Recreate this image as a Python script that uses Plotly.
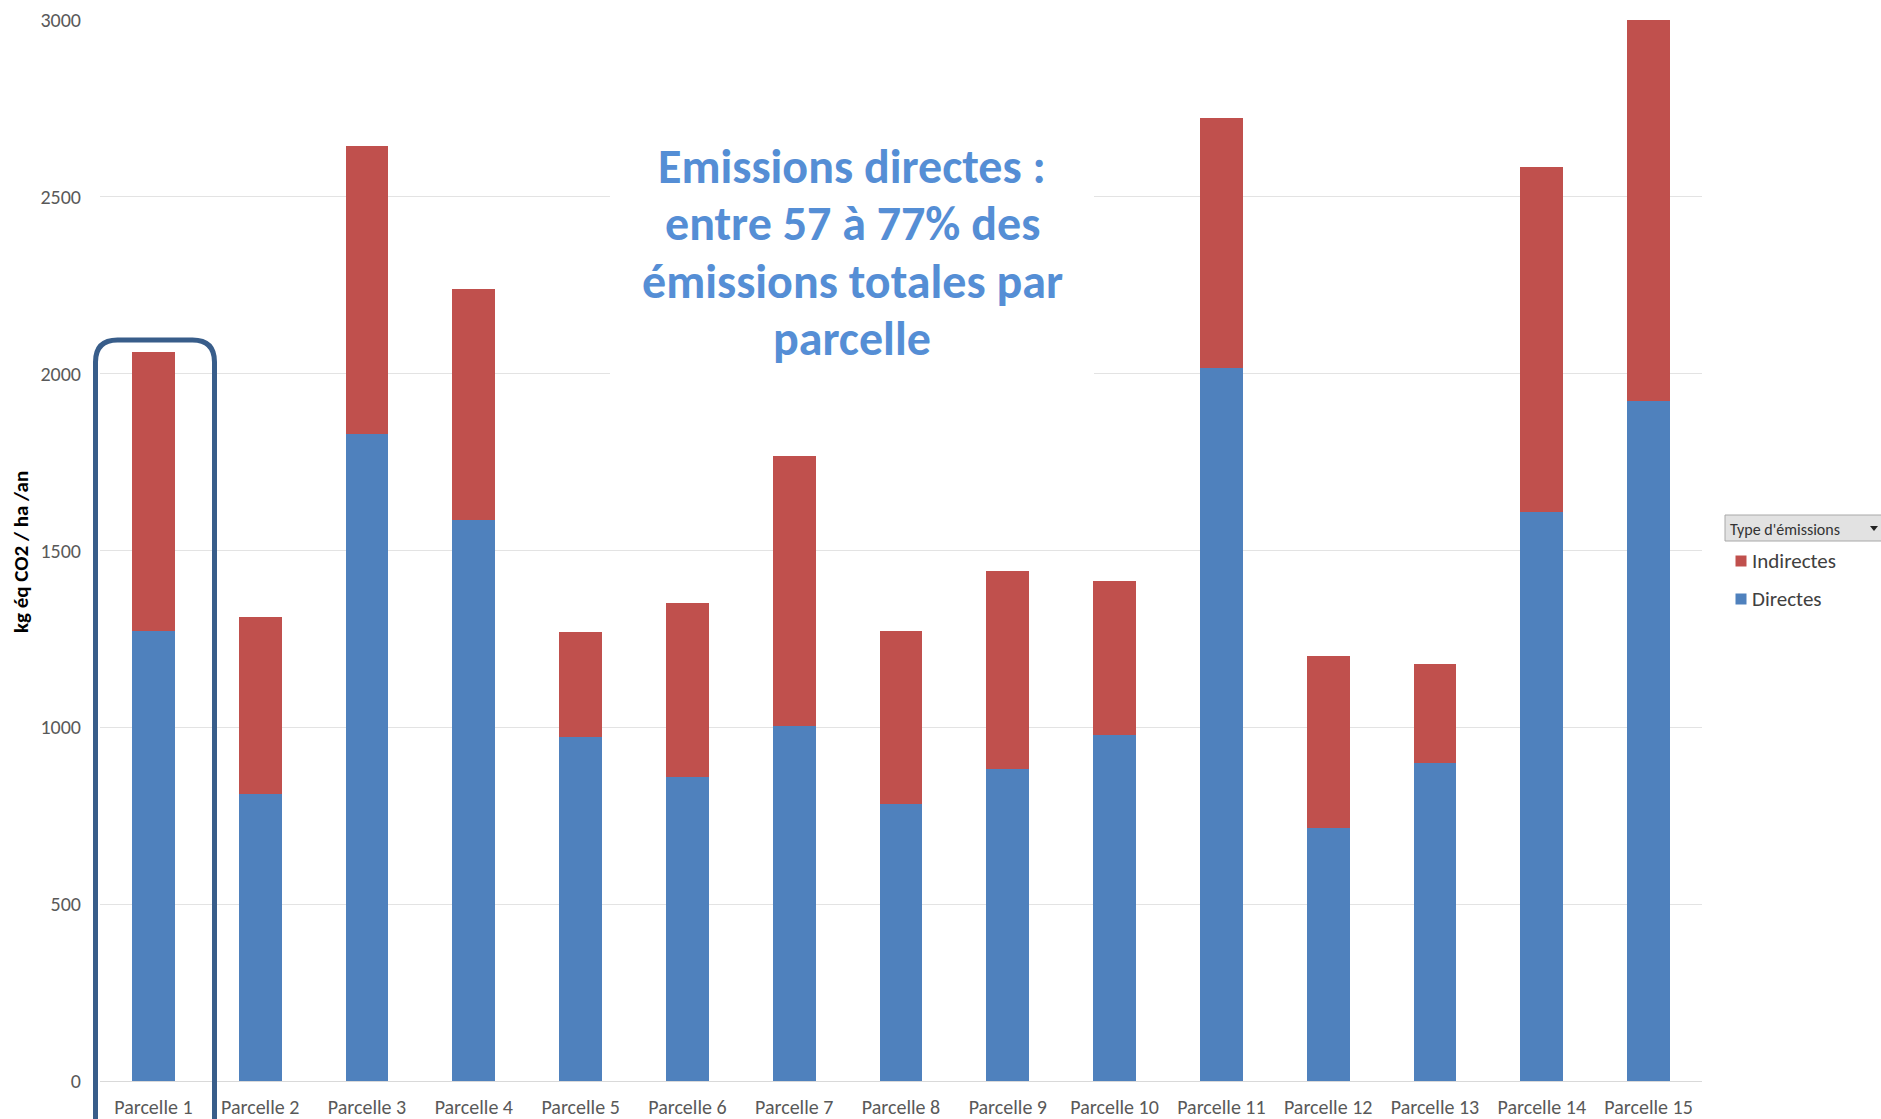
import plotly.graph_objects as go

# Emissions per plot (kg eq CO2 / ha / year)
parcelles = [f"Parcelle {i}" for i in range(1, 16)]
directes = [1273, 811, 1829, 1585, 974, 859, 1005, 784, 882, 977, 2016, 716, 899, 1609, 1924]
indirectes = [787, 502, 815, 655, 295, 492, 763, 489, 560, 438, 706, 485, 279, 975, 1076]

y_ticks = [0, 500, 1000, 1500, 2000, 2500, 3000]
note_lines = [
    "Emissions directes :",
    "entre 57 à 77% des",
    "émissions totales par",
    "parcelle",
]
legend_title = "Type d'émissions"

BLUE = "#4F81BD"
RED = "#C0504D"
FONT = "Carlito, Lato, sans-serif"

W, H = 1881, 1119
L, R, T, B = 100, 179, 20, 38
PW, PH = W - L - R, H - T - B


def px(xp):
    """pixel x -> paper x"""
    return (xp - L) / PW


def py(yp):
    """pixel y -> paper y"""
    return (H - B - yp) / PH


fig = go.Figure()
fig.add_trace(go.Bar(x=parcelles, y=directes, name="Directes",
                     marker=dict(color=BLUE, line=dict(width=0))))
fig.add_trace(go.Bar(x=parcelles, y=indirectes, name="Indirectes",
                     marker=dict(color=RED, line=dict(width=0))))

shapes = []
annotations = []

# rounded frame around the first plot
xl, xr, yt, yb = px(95.5), px(214.5), py(340), py(1200)
rx, ry = 22 / PW, 22 / PH
shapes.append(dict(
    type="path", xref="paper", yref="paper",
    path=(f"M {xl},{yb} L {xl},{yt - ry} Q {xl},{yt} {xl + rx},{yt} "
          f"L {xr - rx},{yt} Q {xr},{yt} {xr},{yt - ry} L {xr},{yb}"),
    line=dict(color="#385D8A", width=5), layer="above"))

# white panel behind the note
shapes.append(dict(type="rect", xref="paper", yref="paper",
                   x0=px(610), x1=px(1094), y0=py(385), y1=py(120),
                   fillcolor="white", line=dict(width=0), layer="above"))
for i, line in enumerate(note_lines):
    annotations.append(dict(
        text=line, xref="paper", yref="paper", x=px(852), y=py(166 + 57.5 * i),
        xanchor="center", yanchor="middle", showarrow=False,
        font=dict(family=FONT, size=48, color="#558ED5", weight="bold")))

# y axis title
annotations.append(dict(
    text="kg éq CO2 / ha /an", xref="paper", yref="paper", x=px(21), y=py(552),
    xanchor="center", yanchor="middle", textangle=-90, showarrow=False,
    font=dict(family=FONT, size=21, color="black", weight="bold")))

# legend header box
shapes.append(dict(type="rect", xref="paper", yref="paper",
                   x0=px(1725), x1=px(1890), y0=py(541), y1=py(515),
                   fillcolor="#E2E2E2", line=dict(color="#A8A8A8", width=1)))
annotations.append(dict(
    text=legend_title, xref="paper", yref="paper", x=px(1728), y=py(529),
    xanchor="left", yanchor="middle", showarrow=False,
    font=dict(family=FONT, size=16, color="#333333")))
shapes.append(dict(type="path", xref="paper", yref="paper",
                   path=f"M {px(1870)},{py(526)} L {px(1878)},{py(526)} L {px(1874)},{py(531)} Z",
                   fillcolor="#222222", line=dict(width=0)))

# legend entries
for name, color, yc in [("Indirectes", RED, 561), ("Directes", BLUE, 599)]:
    shapes.append(dict(type="rect", xref="paper", yref="paper",
                       x0=px(1735.5), x1=px(1746.5), y0=py(yc + 5.5), y1=py(yc - 5.5),
                       fillcolor=color, line=dict(width=0)))
    annotations.append(dict(
        text=name, xref="paper", yref="paper", x=px(1750), y=py(yc),
        xanchor="left", yanchor="middle", showarrow=False,
        font=dict(family=FONT, size=21, color="#404040")))

fig.update_layout(
    width=W, height=H,
    margin=dict(l=L, r=R, t=T, b=B, autoexpand=False),
    barmode="stack", bargap=0.6,
    plot_bgcolor="white", paper_bgcolor="white",
    showlegend=False,
    shapes=shapes, annotations=annotations,
    xaxis=dict(showline=True, linecolor="#D9D9D9", linewidth=1,
               ticks="", ticklabelstandoff=8,
               tickfont=dict(family=FONT, size=20, color="#595959"),
               automargin=False, showgrid=False),
    yaxis=dict(range=[0, 3000], tickvals=y_ticks, showgrid=True,
               gridcolor="#E3E3E3", gridwidth=1, zeroline=False, showline=False,
               ticks="", ticklabelstandoff=18,
               tickfont=dict(family=FONT, size=20, color="#595959"),
               automargin=False),
)

fig.write_html("out.html")
